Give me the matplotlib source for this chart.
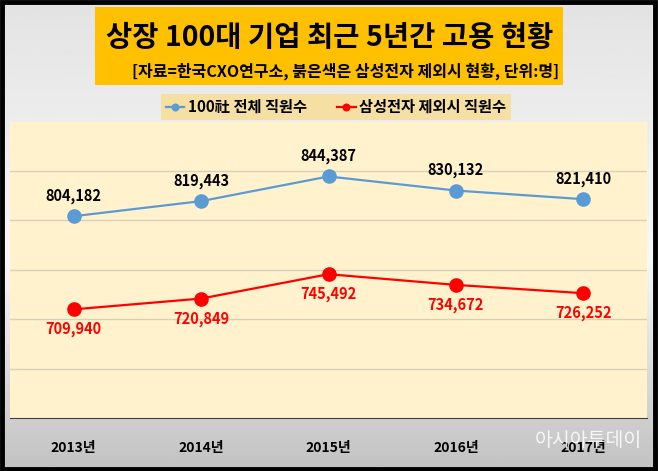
import numpy as np
import matplotlib
matplotlib.use("Agg")
import matplotlib.pyplot as plt
from matplotlib.patches import Rectangle

plt.rcParams['font.family'] = ['Noto Sans CJK KR', 'DejaVu Sans']

# 데이터
anios = ['2013년', '2014년', '2015년', '2016년', '2017년']
total = [804182, 819443, 844387, 830132, 821410]
sin_samsung = [709940, 720849, 745492, 734672, 726252]
nombre_total = '100社 전체 직원수'
nombre_sin = '삼성전자 제외시 직원수'

fig = plt.figure(figsize=(6.58, 4.71), dpi=100)

# fondo con degradado gris
bg = fig.add_axes([0, 0, 1, 1], zorder=-10)
g = np.linspace(0, 1, 200)
col = np.interp(g, [0, 0.45, 1], [0.76, 0.97, 0.89])
bg.imshow(np.tile(col[:, None], (1, 10)), cmap='gray', vmin=0, vmax=1,
          aspect='auto', extent=[0, 1, 0, 1], origin='lower')
bg.set_xlim(0, 1)
bg.set_ylim(0, 1)
bg.axis('off')

# caja del titulo
fig.patches.append(Rectangle((95/658, 1-85/471), 468/658, 78/471,
                             transform=fig.transFigure, facecolor='#FFC000',
                             edgecolor='none', zorder=1))
fig.text(330/658, 1-38/471, '상장 100대 기업 최근 5년간 고용 현황',
         ha='center', va='center', fontsize=20.5, fontweight='bold', zorder=2)
fig.text(559/658, 1-71/471, '[자료=한국CXO연구소, 붉은색은 삼성전자 제외시 현황, 단위:명]',
         ha='right', va='center', fontsize=11.5, fontweight='bold', zorder=2)

# grafico
ax = fig.add_axes([10/658, 1-418/471, 637/658, 296.5/471])
ax.set_facecolor('#FFF2CC')
x = np.arange(len(anios))
ax.plot(x, total, color='#5B9BD5', lw=1.6, marker='o', ms=9.5, label=nombre_total)
ax.plot(x, sin_samsung, color='#FF0000', lw=1.6, marker='o', ms=9.5, label=nombre_sin)
for i in range(len(anios)):
    ax.annotate('{:,}'.format(total[i]), (x[i], total[i]), xytext=(0, 14.5),
                textcoords='offset points', ha='center', va='center',
                fontsize=10.5, fontweight='bold', color='black')
    ax.annotate('{:,}'.format(sin_samsung[i]), (x[i], sin_samsung[i]), xytext=(0, -14.5),
                textcoords='offset points', ha='center', va='center',
                fontsize=10.5, fontweight='bold', color='#FF0000')
ax.set_xlim(-0.5, 4.5)
ax.set_ylim(600000, 900000)
ax.set_yticks(np.arange(650000, 900000, 50000))
ax.yaxis.grid(True, color='#D9D0B8', lw=1)
ax.set_axisbelow(True)
ax.tick_params(left=False, labelleft=False, bottom=False)
ax.set_xticks(x)
ax.set_xticklabels(anios, fontsize=10, fontweight='bold')
ax.tick_params(axis='x', pad=13)
for s in ['top', 'left', 'right']:
    ax.spines[s].set_visible(False)
ax.spines['bottom'].set_color('#404040')

# leyenda
leg = fig.legend(loc='center', bbox_to_anchor=(336/658, 1-107/471), ncol=2,
                 frameon=True, fancybox=False, framealpha=1, markerscale=0.5,
                 handlelength=1.2, handletextpad=0.25, columnspacing=2.0,
                 prop={'size': 11, 'weight': 'bold'}, borderpad=0.3)
leg.get_frame().set_facecolor('#F6DFA2')
leg.get_frame().set_edgecolor('none')

# marca de agua
fig.text(588/658, 1-440/471, '아시아투데이', ha='center', va='center', fontsize=14,
         color='white', alpha=0.85, zorder=5)

# borde negro
fig.patches.append(Rectangle((0.003, 0.005), 0.992, 0.99, transform=fig.transFigure,
                             facecolor='none', edgecolor='black', lw=3.5, zorder=10))

fig.savefig('out.png', dpi=100)
